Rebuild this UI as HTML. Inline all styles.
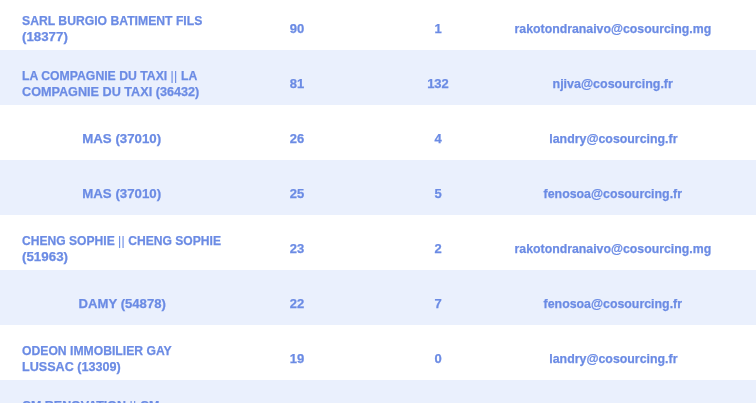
<!DOCTYPE html>
<html>
<head>
<meta charset="utf-8">
<style>
html,body{margin:0;padding:0;background:#fff;}
body{width:756px;height:403px;overflow:hidden;position:relative;font-family:"Liberation Sans",sans-serif;}
.r{position:absolute;left:0;width:756px;height:55px;}
.b{background:#eaf0fd;}
.c{position:absolute;top:6px;height:55px;display:flex;flex-direction:column;justify-content:center;align-items:center;
 font-weight:bold;font-size:13px;line-height:16px;color:#6b8be4;white-space:nowrap;will-change:transform;-webkit-text-stroke:0.25px #6b8be4;}
.c span{display:block;transform-origin:50% 50%;}
.c1.l span{transform-origin:0 50%;}
.c i{font-style:normal;font-weight:normal;letter-spacing:0.3px;-webkit-text-stroke:0.1px #6b8be4;}
.c1{left:22px;width:200px;}
.c1.l{align-items:flex-start;}
.c2{left:247px;width:100px;}
.c3{left:387.5px;width:100px;}
.c4{left:487.5px;width:250px;}
</style>
</head>
<body>
<div class="r" style="top:-5px"><div class="c c1 l"><span style="transform:scaleX(0.9375)">SARL BURGIO BATIMENT FILS</span><span style="transform:scaleX(1.0223)">(18377)</span></div><div class="c c2"><span>90</span></div><div class="c c3"><span>1</span></div><div class="c c4"><span style="transform:scaleX(0.9466)">rakotondranaivo@cosourcing.mg</span></div></div>
<div class="r b" style="top:50px"><div class="c c1 l"><span style="transform:scaleX(0.9409)">LA COMPAGNIE DU TAXI <i>||</i> LA</span><span style="transform:scaleX(0.9725)">COMPAGNIE DU TAXI (36432)</span></div><div class="c c2"><span>81</span></div><div class="c c3"><span>132</span></div><div class="c c4"><span style="transform:scaleX(0.9600)">njiva@cosourcing.fr</span></div></div>
<div class="r" style="top:105px"><div class="c c1"><span style="transform:scaleX(1.0200)">MAS (37010)</span></div><div class="c c2"><span>26</span></div><div class="c c3"><span>4</span></div><div class="c c4"><span style="transform:scaleX(0.9508)">landry@cosourcing.fr</span></div></div>
<div class="r b" style="top:160px"><div class="c c1"><span style="transform:scaleX(1.0200)">MAS (37010)</span></div><div class="c c2"><span>25</span></div><div class="c c3"><span>5</span></div><div class="c c4"><span style="transform:scaleX(0.9507)">fenosoa@cosourcing.fr</span></div></div>
<div class="r" style="top:215px"><div class="c c1 l"><span style="transform:scaleX(0.9299)">CHENG SOPHIE <i>||</i> CHENG SOPHIE</span><span style="transform:scaleX(1.0268)">(51963)</span></div><div class="c c2"><span>23</span></div><div class="c c3"><span>2</span></div><div class="c c4"><span style="transform:scaleX(0.9466)">rakotondranaivo@cosourcing.mg</span></div></div>
<div class="r b" style="top:270px"><div class="c c1"><span style="transform:scaleX(1.0093)">DAMY (54878)</span></div><div class="c c2"><span>22</span></div><div class="c c3"><span>7</span></div><div class="c c4"><span style="transform:scaleX(0.9507)">fenosoa@cosourcing.fr</span></div></div>
<div class="r" style="top:325px"><div class="c c1 l"><span style="transform:scaleX(0.9363)">ODEON IMMOBILIER GAY</span><span style="transform:scaleX(0.9684)">LUSSAC (13309)</span></div><div class="c c2"><span>19</span></div><div class="c c3"><span>0</span></div><div class="c c4"><span style="transform:scaleX(0.9508)">landry@cosourcing.fr</span></div></div>
<div class="r b" style="top:380px"><div class="c c1 l"><span style="transform:scaleX(0.9580)">CM RENOVATION <i>||</i> CM</span><span>RENOVATION (10000)</span></div><div class="c c2"></div><div class="c c3"></div><div class="c c4"></div></div>
</body>
</html>
